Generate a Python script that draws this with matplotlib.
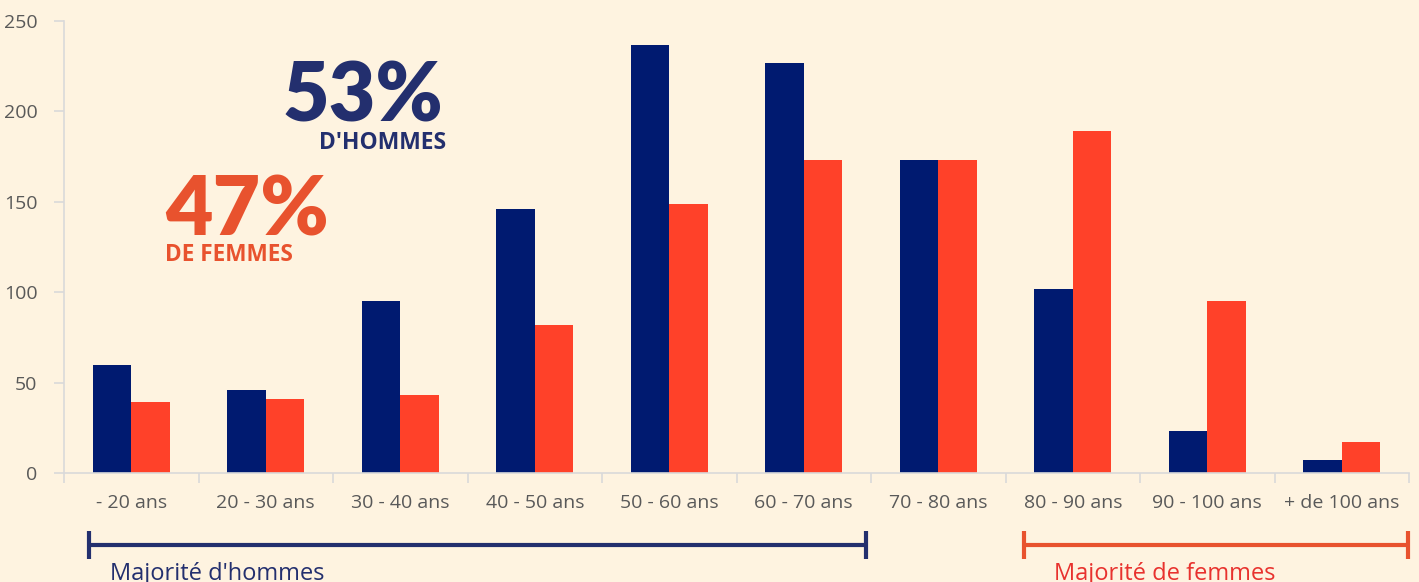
import matplotlib.pyplot as plt
import numpy as np

# Données
categories = ["- 20 ans", "20 - 30 ans", "30 - 40 ans", "40 - 50 ans", "50 - 60 ans",
              "60 - 70 ans", "70 - 80 ans", "80 - 90 ans", "90 - 100 ans", "+ de 100 ans"]
hommes = [60, 46, 95, 146, 237, 227, 173, 102, 23, 7]
femmes = [39, 41, 43, 82, 149, 173, 173, 189, 95, 17]
yticks = [0, 50, 100, 150, 200, 250]

bg = "#fef3e0"
bleu = "#001a70"
rouge = "#ff4129"
bleu_txt = "#232f6e"
rouge_txt = "#e8522e"
gris = "#595959"

plt.rcParams['font.family'] = ['Open Sans', 'DejaVu Sans']

fig = plt.figure(figsize=(14.19, 5.82), dpi=100, facecolor=bg)
ax = fig.add_axes([64 / 1419, 109 / 582, 1345 / 1419, 452 / 582])
ax.set_facecolor(bg)

x = np.arange(len(categories))
w = 0.286
ax.bar(x - w / 2, hommes, width=w, color=bleu)
ax.bar(x + w / 2, femmes, width=w, color=rouge)

ax.set_xlim(-0.5, len(categories) - 0.5)
ax.set_ylim(0, 250)
ax.set_yticks(yticks)
ax.set_yticklabels([str(v) for v in yticks], color=gris, fontsize=14)
ax.set_xticks(np.arange(len(categories) + 1) - 0.5)
ax.set_xticklabels([])
ax.set_xticks(x, minor=True)
ax.set_xticklabels(categories, minor=True, color=gris, fontsize=14)
ax.tick_params(axis='x', which='major', length=7, color="#d9d9d9", width=1.2)
ax.tick_params(axis='x', which='minor', length=0, pad=15)
ax.tick_params(axis='y', length=7, color="#d9d9d9", width=1.2, pad=12)
for s in ["top", "right"]:
    ax.spines[s].set_visible(False)
for s in ["left", "bottom"]:
    ax.spines[s].set_color("#d9d9d9")
    ax.spines[s].set_linewidth(1.2)

# Annotations
fig.text(443 / 1419, 1 - 122 / 582, "53%", color=bleu_txt, fontsize=58, fontweight='heavy',
         family=['Lato', 'DejaVu Sans'], ha='right', va='baseline')
fig.text(446 / 1419, 1 - 143 / 582, "D'HOMMES", color=bleu_txt, fontsize=16.5, fontweight='bold',
         ha='right', va='center')
fig.text(165 / 1419, 1 - 235 / 582, "47%", color=rouge_txt, fontsize=59, fontweight='heavy',
         family=['Lato', 'DejaVu Sans'], ha='left', va='baseline')
fig.text(165 / 1419, 1 - 255 / 582, "DE FEMMES", color=rouge_txt, fontsize=16.3, fontweight='bold',
         ha='left', va='center')

# Crochets
yb = -40
ax.plot([-0.314, 5.463], [yb, yb], color=bleu_txt, lw=3, marker='|', ms=20, mew=3,
        clip_on=False, solid_capstyle='butt')
ax.plot([6.64, 9.49], [yb, yb], color=rouge_txt, lw=3, marker='|', ms=20, mew=3,
        clip_on=False, solid_capstyle='butt')
fig.text(110 / 1419, 1 - 580 / 582, "Majorité d'hommes", color=bleu_txt, fontsize=17,
         ha='left', va='baseline')
fig.text(1054 / 1419, 1 - 580 / 582, "Majorité de femmes", color="#e8322e", fontsize=17,
         ha='left', va='baseline')

fig.savefig("out.png", dpi=100, facecolor=bg)
